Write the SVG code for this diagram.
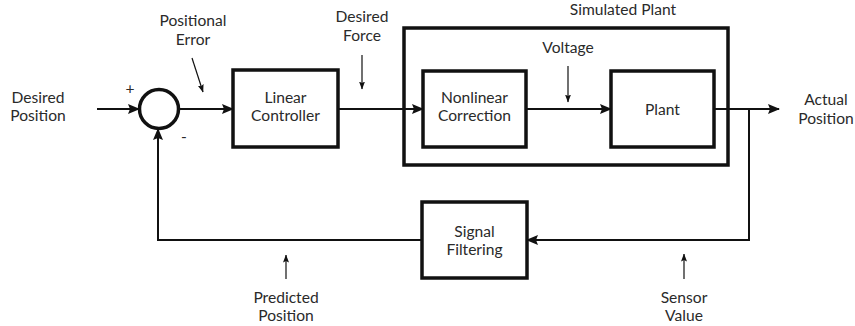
<svg xmlns="http://www.w3.org/2000/svg" width="855" height="326" viewBox="0 0 855 326">
  <style>
    text { font-family: Lato, "Open Sans", "Liberation Sans", sans-serif; font-size: 15.6px; fill: #2a2a2a; text-anchor: middle; }
    .box { fill: #fff; stroke: #111; stroke-width: 3.5; }
    .outer { fill: none; stroke: #111; stroke-width: 3.5; }
    .wire { fill: none; stroke: #111; stroke-width: 2; }
    .note { fill: none; stroke: #111; stroke-width: 1.2; }
  </style>
  <defs>
    <marker id="head" viewBox="0 0 12 10" refX="11" refY="5" markerWidth="12" markerHeight="10" markerUnits="userSpaceOnUse" orient="auto">
      <path d="M0,0 L12,5 L0,10 L2,5 z" fill="#111"/>
    </marker>
    <marker id="tip" viewBox="0 0 8 6" refX="7.5" refY="3" markerWidth="8" markerHeight="6" markerUnits="userSpaceOnUse" orient="auto">
      <path d="M0,0 L8,3 L0,6 L1.5,3 z" fill="#111"/>
    </marker>
  </defs>

  <!-- subsystem boundary -->
  <g id="simulated-plant">
    <rect class="outer" x="404" y="28" width="324" height="137"/>
    <text x="623" y="15">Simulated Plant</text>
  </g>

  <g id="sum">
    <circle cx="159" cy="109" r="19.5" fill="#fff" stroke="#111" stroke-width="3.5"/>
    <text x="130" y="94">+</text>
    <text x="184" y="142">-</text>
  </g>

  <g id="linear-controller">
    <rect class="box" x="233" y="70" width="105" height="77"/>
    <text x="285.5" y="103">Linear</text>
    <text x="285.5" y="121">Controller</text>
  </g>

  <g id="nonlinear-correction">
    <rect class="box" x="423" y="71" width="103" height="76"/>
    <text x="474.5" y="103">Nonlinear</text>
    <text x="474.5" y="121">Correction</text>
  </g>

  <g id="plant">
    <rect class="box" x="611" y="71" width="103" height="76"/>
    <text x="662.5" y="115">Plant</text>
  </g>

  <g id="signal-filtering">
    <rect class="box" x="422" y="202" width="105" height="76"/>
    <text x="474.5" y="237">Signal</text>
    <text x="474.5" y="255">Filtering</text>
  </g>

  <g id="connectors">
    <path class="wire" d="M97,109 H139" marker-end="url(#head)"/>
    <path class="wire" d="M179,109 H233" marker-end="url(#head)"/>
    <path class="wire" d="M338,109 H423" marker-end="url(#head)"/>
    <path class="wire" d="M526,109 H611" marker-end="url(#head)"/>
    <path class="wire" d="M714,109 H779" marker-end="url(#head)"/>
    <path class="wire" d="M749,109 V240 H527" marker-end="url(#head)"/>
    <path class="wire" d="M422,240 H158 V129" marker-end="url(#head)"/>
  </g>

  <g id="labels">
    <text x="38" y="103">Desired</text>
    <text x="38" y="121">Position</text>

    <text x="193" y="26">Positional</text>
    <text x="193" y="45">Error</text>
    <path class="note" d="M192,58 L203,92" marker-end="url(#tip)"/>

    <text x="362" y="22">Desired</text>
    <text x="362" y="41">Force</text>
    <path class="note" d="M362,55 V89" marker-end="url(#tip)"/>

    <text x="568" y="53">Voltage</text>
    <path class="note" d="M568,66 V102" marker-end="url(#tip)"/>

    <text x="826" y="105">Actual</text>
    <text x="826" y="124">Position</text>

    <text x="286" y="303">Predicted</text>
    <text x="286" y="321">Position</text>
    <path class="note" d="M286,279 V255" marker-end="url(#tip)"/>

    <text x="684" y="303">Sensor</text>
    <text x="684" y="321">Value</text>
    <path class="note" d="M684,279 V254" marker-end="url(#tip)"/>
  </g>
</svg>
